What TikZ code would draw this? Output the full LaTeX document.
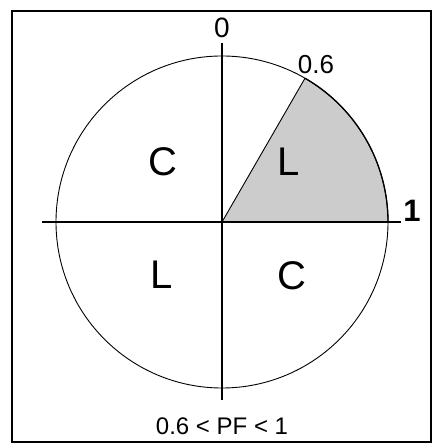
\documentclass[tikz,border=0pt]{standalone}
\usepackage{fontspec}
\setmainfont{Liberation Sans}
\usetikzlibrary{calc}
\begin{document}
\begin{tikzpicture}[x=1pt,y=1pt,
  lbl/.style={inner sep=0pt,font=\fontsize{40}{42}\selectfont},
  tick/.style={inner sep=0pt,font=\fontsize{28}{30}\selectfont},
  axis/.style={line width=1.3pt},
  rim/.style={line width=0.9pt}]
\useasboundingbox (0,0) rectangle (432,444);
\draw[line width=2.2pt] (12,2) -- (12,433) -- (431,433) -- (431,2) -- cycle;
\coordinate (O) at (222,222);
\coordinate (P) at ($(O)+(60:166)$);
\coordinate (E) at ($(O)+(0:166)$);
\fill[gray!40] (O) -- (P) arc[start angle=60,end angle=0,radius=166] -- cycle;
\draw[rim] (O) circle[radius=166];
\draw[line width=1.3pt] (P) arc[start angle=60,end angle=0,radius=166];
\draw[rim] (O) -- (P);
\coordinate (xl) at (42,222);
\coordinate (xr) at (401,222);
\coordinate (yt) at (222,401);
\coordinate (yb) at (222,44);
\draw[axis] (xl) -- (xr);
\draw[axis] (yb) -- (yt);
\node[tick] (t0) at (222,416.5) {0};
\node[tick,font=\fontsize{26}{28}\selectfont] (t06) at (316,379) {0.6};
\node[tick,font=\fontsize{31}{33}\selectfont\bfseries] (t1) at (412,233) {1};
\node[lbl] (c1) at (163,282) {C};
\node[lbl] (l1) at (289,282) {L};
\node[lbl] (l2) at (162,169) {L};
\node[lbl] (c2) at (292,168) {C};
\node[tick,font=\fontsize{24}{26}\selectfont] (pf) at (222,18) {0.6 < PF < 1};
\end{tikzpicture}
\end{document}
